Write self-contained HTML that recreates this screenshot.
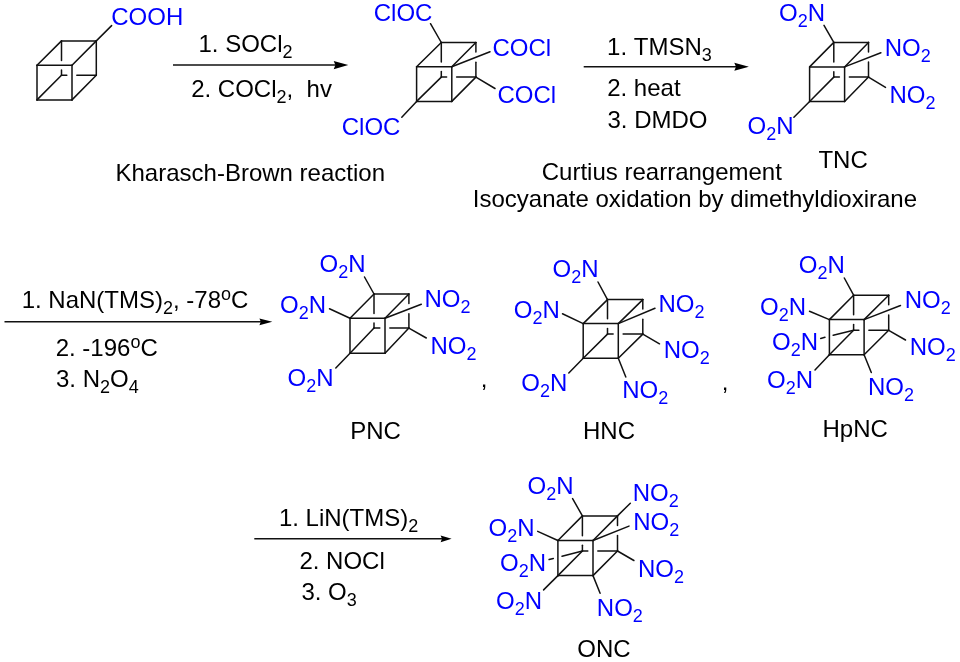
<!DOCTYPE html>
<html><head><meta charset="utf-8"><title>Cubane nitration scheme</title>
<style>
html,body{margin:0;padding:0;background:#fff;}
body{width:960px;height:662px;overflow:hidden;}
svg{display:block;font-family:"Liberation Sans",sans-serif;font-kerning:none;will-change:transform;}
</style></head><body>
<svg width="960" height="662" viewBox="0 0 960 662">
<rect width="960" height="662" fill="#fff"/>
<line x1="37.00" y1="65.30" x2="72.00" y2="65.30" stroke="#111" stroke-width="1.5" stroke-linecap="round"/>
<line x1="72.00" y1="65.30" x2="72.00" y2="99.90" stroke="#111" stroke-width="1.5" stroke-linecap="round"/>
<line x1="72.00" y1="99.90" x2="37.00" y2="99.90" stroke="#111" stroke-width="1.5" stroke-linecap="round"/>
<line x1="37.00" y1="99.90" x2="37.00" y2="65.30" stroke="#111" stroke-width="1.5" stroke-linecap="round"/>
<line x1="61.50" y1="40.90" x2="96.30" y2="40.90" stroke="#111" stroke-width="1.5" stroke-linecap="round"/>
<line x1="96.30" y1="40.90" x2="96.30" y2="75.30" stroke="#111" stroke-width="1.5" stroke-linecap="round"/>
<line x1="37.00" y1="65.30" x2="61.50" y2="40.90" stroke="#111" stroke-width="1.5" stroke-linecap="round"/>
<line x1="72.00" y1="65.30" x2="96.30" y2="40.90" stroke="#111" stroke-width="1.5" stroke-linecap="round"/>
<line x1="72.00" y1="99.90" x2="96.30" y2="75.30" stroke="#111" stroke-width="1.5" stroke-linecap="round"/>
<line x1="61.50" y1="40.90" x2="61.50" y2="60.50" stroke="#111" stroke-width="1.5" stroke-linecap="round"/>
<line x1="61.50" y1="70.10" x2="61.50" y2="75.30" stroke="#111" stroke-width="1.5" stroke-linecap="round"/>
<line x1="61.50" y1="75.30" x2="66.80" y2="75.30" stroke="#111" stroke-width="1.5" stroke-linecap="round"/>
<line x1="76.80" y1="75.30" x2="96.30" y2="75.30" stroke="#111" stroke-width="1.5" stroke-linecap="round"/>
<line x1="37.00" y1="99.90" x2="61.50" y2="75.30" stroke="#111" stroke-width="1.5" stroke-linecap="round"/>
<line x1="96.30" y1="40.90" x2="111.60" y2="25.60" stroke="#111" stroke-width="1.5" stroke-linecap="round"/>
<text x="111.28" y="0" transform="matrix(1 0 0 1.0 0 24.90)" fill="#0000ff" font-size="24" xml:space="preserve"><tspan>COOH</tspan></text>
<line x1="173.00" y1="65.10" x2="335.90" y2="65.10" stroke="#111" stroke-width="1.5" stroke-linecap="butt"/>
<path d="M348.30,65.10 L333.70,61.05 L335.40,65.10 L333.70,69.15 Z" fill="#000"/>
<text x="198.48" y="0" transform="matrix(1 0 0 1.0 0 52.00)" fill="#000000" font-size="24" xml:space="preserve"><tspan>1. SOCl</tspan><tspan dy="6.00" font-size="18">2</tspan></text>
<text x="191.19" y="0" transform="matrix(1 0 0 1.0 0 97.40)" fill="#000000" font-size="24" xml:space="preserve"><tspan>2. COCl</tspan><tspan dy="6.00" font-size="18">2</tspan><tspan dy="-6.00">,  hv</tspan></text>
<text x="115.53" y="0" transform="matrix(1 0 0 1.0 0 180.60)" fill="#000000" font-size="24" xml:space="preserve"><tspan>Kharasch-Brown reaction</tspan></text>
<line x1="416.60" y1="66.70" x2="451.80" y2="66.70" stroke="#111" stroke-width="1.5" stroke-linecap="round"/>
<line x1="451.80" y1="66.70" x2="451.80" y2="101.40" stroke="#111" stroke-width="1.5" stroke-linecap="round"/>
<line x1="451.80" y1="101.40" x2="416.60" y2="101.40" stroke="#111" stroke-width="1.5" stroke-linecap="round"/>
<line x1="416.60" y1="101.40" x2="416.60" y2="66.70" stroke="#111" stroke-width="1.5" stroke-linecap="round"/>
<line x1="441.30" y1="42.50" x2="475.90" y2="42.50" stroke="#111" stroke-width="1.5" stroke-linecap="round"/>
<line x1="475.90" y1="42.50" x2="475.90" y2="52.00" stroke="#111" stroke-width="1.5" stroke-linecap="round"/>
<line x1="475.90" y1="62.20" x2="475.90" y2="77.10" stroke="#111" stroke-width="1.5" stroke-linecap="round"/>
<line x1="416.60" y1="66.70" x2="441.30" y2="42.50" stroke="#111" stroke-width="1.5" stroke-linecap="round"/>
<line x1="451.80" y1="66.70" x2="475.90" y2="42.50" stroke="#111" stroke-width="1.5" stroke-linecap="round"/>
<line x1="451.80" y1="101.40" x2="475.90" y2="77.10" stroke="#111" stroke-width="1.5" stroke-linecap="round"/>
<line x1="441.30" y1="42.50" x2="441.30" y2="61.90" stroke="#111" stroke-width="1.5" stroke-linecap="round"/>
<line x1="441.30" y1="71.50" x2="441.30" y2="77.10" stroke="#111" stroke-width="1.5" stroke-linecap="round"/>
<line x1="441.30" y1="77.10" x2="446.60" y2="77.10" stroke="#111" stroke-width="1.5" stroke-linecap="round"/>
<line x1="456.60" y1="77.10" x2="475.90" y2="77.10" stroke="#111" stroke-width="1.5" stroke-linecap="round"/>
<line x1="416.60" y1="101.40" x2="441.30" y2="77.10" stroke="#111" stroke-width="1.5" stroke-linecap="round"/>
<line x1="441.30" y1="42.50" x2="430.50" y2="23.70" stroke="#111" stroke-width="1.5" stroke-linecap="round"/>
<line x1="451.80" y1="66.70" x2="490.00" y2="51.70" stroke="#111" stroke-width="1.5" stroke-linecap="round"/>
<line x1="475.90" y1="77.10" x2="495.00" y2="88.50" stroke="#111" stroke-width="1.5" stroke-linecap="round"/>
<line x1="416.60" y1="101.40" x2="401.80" y2="117.30" stroke="#111" stroke-width="1.5" stroke-linecap="round"/>
<text x="373.78" y="0" transform="matrix(1 0 0 1.0 0 20.60)" fill="#0000ff" font-size="24" xml:space="preserve"><tspan>ClOC</tspan></text>
<text x="492.53" y="0" transform="matrix(1 0 0 1.0 0 55.60)" fill="#0000ff" font-size="24" xml:space="preserve"><tspan>COCl</tspan></text>
<text x="497.53" y="0" transform="matrix(1 0 0 1.0 0 103.10)" fill="#0000ff" font-size="24" xml:space="preserve"><tspan>COCl</tspan></text>
<text x="341.78" y="0" transform="matrix(1 0 0 1.0 0 135.00)" fill="#0000ff" font-size="24" xml:space="preserve"><tspan>ClOC</tspan></text>
<line x1="583.70" y1="66.75" x2="736.50" y2="66.75" stroke="#111" stroke-width="1.5" stroke-linecap="butt"/>
<path d="M748.90,66.75 L734.30,62.70 L736.00,66.75 L734.30,70.80 Z" fill="#000"/>
<text x="607.08" y="0" transform="matrix(1 0 0 1.0 0 54.80)" fill="#000000" font-size="24" xml:space="preserve"><tspan>1. TMSN</tspan><tspan dy="6.00" font-size="18">3</tspan></text>
<text x="607.19" y="0" transform="matrix(1 0 0 1.0 0 96.40)" fill="#000000" font-size="24" xml:space="preserve"><tspan>2. heat</tspan></text>
<text x="607.49" y="0" transform="matrix(1 0 0 1.0 0 127.60)" fill="#000000" font-size="24" xml:space="preserve"><tspan>3. DMDO</tspan></text>
<text x="818.46" y="0" transform="matrix(1 0 0 1.0 0 168.00)" fill="#000000" font-size="24" xml:space="preserve"><tspan>TNC</tspan></text>
<text x="541.78" y="0" transform="matrix(1 0 0 1.0 0 180.20)" fill="#000000" font-size="24" xml:space="preserve"><tspan>Curtius rearrangement</tspan></text>
<text x="472.79" y="0" transform="matrix(1 0 0 1.0 0 207.30)" fill="#000000" font-size="24" xml:space="preserve"><tspan>Isocyanate oxidation by dimethyldioxirane</tspan></text>
<line x1="809.60" y1="66.90" x2="844.60" y2="66.90" stroke="#111" stroke-width="1.5" stroke-linecap="round"/>
<line x1="844.60" y1="66.90" x2="844.60" y2="101.50" stroke="#111" stroke-width="1.5" stroke-linecap="round"/>
<line x1="844.60" y1="101.50" x2="809.60" y2="101.50" stroke="#111" stroke-width="1.5" stroke-linecap="round"/>
<line x1="809.60" y1="101.50" x2="809.60" y2="66.90" stroke="#111" stroke-width="1.5" stroke-linecap="round"/>
<line x1="833.80" y1="42.40" x2="868.50" y2="42.40" stroke="#111" stroke-width="1.5" stroke-linecap="round"/>
<line x1="868.50" y1="42.40" x2="868.50" y2="51.90" stroke="#111" stroke-width="1.5" stroke-linecap="round"/>
<line x1="868.50" y1="62.10" x2="868.50" y2="77.10" stroke="#111" stroke-width="1.5" stroke-linecap="round"/>
<line x1="809.60" y1="66.90" x2="833.80" y2="42.40" stroke="#111" stroke-width="1.5" stroke-linecap="round"/>
<line x1="844.60" y1="66.90" x2="868.50" y2="42.40" stroke="#111" stroke-width="1.5" stroke-linecap="round"/>
<line x1="844.60" y1="101.50" x2="868.50" y2="77.10" stroke="#111" stroke-width="1.5" stroke-linecap="round"/>
<line x1="833.80" y1="42.40" x2="833.80" y2="62.10" stroke="#111" stroke-width="1.5" stroke-linecap="round"/>
<line x1="833.80" y1="71.70" x2="833.80" y2="77.10" stroke="#111" stroke-width="1.5" stroke-linecap="round"/>
<line x1="833.80" y1="77.10" x2="839.40" y2="77.10" stroke="#111" stroke-width="1.5" stroke-linecap="round"/>
<line x1="849.40" y1="77.10" x2="868.50" y2="77.10" stroke="#111" stroke-width="1.5" stroke-linecap="round"/>
<line x1="809.60" y1="101.50" x2="833.80" y2="77.10" stroke="#111" stroke-width="1.5" stroke-linecap="round"/>
<line x1="833.80" y1="42.40" x2="824.00" y2="25.30" stroke="#111" stroke-width="1.5" stroke-linecap="round"/>
<line x1="844.60" y1="66.90" x2="880.90" y2="52.70" stroke="#111" stroke-width="1.5" stroke-linecap="round"/>
<line x1="868.50" y1="77.10" x2="885.50" y2="87.40" stroke="#111" stroke-width="1.5" stroke-linecap="round"/>
<line x1="809.60" y1="101.50" x2="793.90" y2="117.30" stroke="#111" stroke-width="1.5" stroke-linecap="round"/>
<text x="778.96" y="0" transform="matrix(1 0 0 1.0 0 20.80)" fill="#0000ff" font-size="24" xml:space="preserve"><tspan>O</tspan><tspan dy="6.00" font-size="18">2</tspan><tspan dy="-6.00">N</tspan></text>
<text x="884.73" y="0" transform="matrix(1 0 0 1.0 0 55.60)" fill="#0000ff" font-size="24" xml:space="preserve"><tspan>NO</tspan><tspan dy="6.00" font-size="18">2</tspan></text>
<text x="889.53" y="0" transform="matrix(1 0 0 1.0 0 102.60)" fill="#0000ff" font-size="24" xml:space="preserve"><tspan>NO</tspan><tspan dy="6.00" font-size="18">2</tspan></text>
<text x="747.56" y="0" transform="matrix(1 0 0 1.0 0 134.00)" fill="#0000ff" font-size="24" xml:space="preserve"><tspan>O</tspan><tspan dy="6.00" font-size="18">2</tspan><tspan dy="-6.00">N</tspan></text>
<line x1="4.50" y1="321.80" x2="261.30" y2="321.80" stroke="#111" stroke-width="1.5" stroke-linecap="butt"/>
<path d="M272.30,321.80 L259.40,318.40 L260.80,321.80 L259.40,325.20 Z" fill="#000"/>
<text x="21.68" y="0" transform="matrix(1 0 0 1.0 0 308.10)" fill="#000000" font-size="24" xml:space="preserve"><tspan>1. NaN(TMS)</tspan><tspan dy="6.00" font-size="18">2</tspan><tspan dy="-6.00">, -78</tspan><tspan dy="-7.80" font-size="18">o</tspan><tspan dy="7.80">C</tspan></text>
<text x="55.69" y="0" transform="matrix(1 0 0 1.0 0 355.70)" fill="#000000" font-size="24" xml:space="preserve"><tspan>2. -196</tspan><tspan dy="-7.80" font-size="18">o</tspan><tspan dy="7.80">C</tspan></text>
<text x="55.99" y="0" transform="matrix(1 0 0 1.0 0 386.70)" fill="#000000" font-size="24" xml:space="preserve"><tspan>3. N</tspan><tspan dy="6.00" font-size="18">2</tspan><tspan dy="-6.00">O</tspan><tspan dy="6.00" font-size="18">4</tspan></text>
<line x1="350.00" y1="318.30" x2="385.00" y2="318.30" stroke="#111" stroke-width="1.5" stroke-linecap="round"/>
<line x1="385.00" y1="318.30" x2="385.00" y2="353.30" stroke="#111" stroke-width="1.5" stroke-linecap="round"/>
<line x1="385.00" y1="353.30" x2="350.00" y2="353.30" stroke="#111" stroke-width="1.5" stroke-linecap="round"/>
<line x1="350.00" y1="353.30" x2="350.00" y2="318.30" stroke="#111" stroke-width="1.5" stroke-linecap="round"/>
<line x1="374.00" y1="294.00" x2="408.90" y2="294.00" stroke="#111" stroke-width="1.5" stroke-linecap="round"/>
<line x1="408.90" y1="294.00" x2="408.90" y2="303.50" stroke="#111" stroke-width="1.5" stroke-linecap="round"/>
<line x1="408.90" y1="313.70" x2="408.90" y2="328.10" stroke="#111" stroke-width="1.5" stroke-linecap="round"/>
<line x1="350.00" y1="318.30" x2="374.00" y2="294.00" stroke="#111" stroke-width="1.5" stroke-linecap="round"/>
<line x1="385.00" y1="318.30" x2="408.90" y2="294.00" stroke="#111" stroke-width="1.5" stroke-linecap="round"/>
<line x1="385.00" y1="353.30" x2="408.90" y2="328.10" stroke="#111" stroke-width="1.5" stroke-linecap="round"/>
<line x1="374.00" y1="294.00" x2="374.00" y2="313.50" stroke="#111" stroke-width="1.5" stroke-linecap="round"/>
<line x1="374.00" y1="323.10" x2="374.00" y2="328.10" stroke="#111" stroke-width="1.5" stroke-linecap="round"/>
<line x1="374.00" y1="328.10" x2="379.80" y2="328.10" stroke="#111" stroke-width="1.5" stroke-linecap="round"/>
<line x1="389.80" y1="328.10" x2="408.90" y2="328.10" stroke="#111" stroke-width="1.5" stroke-linecap="round"/>
<line x1="350.00" y1="353.30" x2="374.00" y2="328.10" stroke="#111" stroke-width="1.5" stroke-linecap="round"/>
<line x1="374.00" y1="294.00" x2="364.50" y2="277.00" stroke="#111" stroke-width="1.5" stroke-linecap="round"/>
<line x1="350.00" y1="318.30" x2="329.50" y2="308.80" stroke="#111" stroke-width="1.5" stroke-linecap="round"/>
<line x1="385.00" y1="318.30" x2="421.30" y2="304.30" stroke="#111" stroke-width="1.5" stroke-linecap="round"/>
<line x1="408.90" y1="328.10" x2="426.30" y2="338.00" stroke="#111" stroke-width="1.5" stroke-linecap="round"/>
<line x1="350.00" y1="353.30" x2="335.80" y2="368.00" stroke="#111" stroke-width="1.5" stroke-linecap="round"/>
<text x="319.61" y="0" transform="matrix(1 0 0 1.0 0 272.10)" fill="#0000ff" font-size="24" xml:space="preserve"><tspan>O</tspan><tspan dy="6.00" font-size="18">2</tspan><tspan dy="-6.00">N</tspan></text>
<text x="280.11" y="0" transform="matrix(1 0 0 1.0 0 313.35)" fill="#0000ff" font-size="24" xml:space="preserve"><tspan>O</tspan><tspan dy="6.00" font-size="18">2</tspan><tspan dy="-6.00">N</tspan></text>
<text x="424.53" y="0" transform="matrix(1 0 0 1.0 0 307.10)" fill="#0000ff" font-size="24" xml:space="preserve"><tspan>NO</tspan><tspan dy="6.00" font-size="18">2</tspan></text>
<text x="430.43" y="0" transform="matrix(1 0 0 1.0 0 353.85)" fill="#0000ff" font-size="24" xml:space="preserve"><tspan>NO</tspan><tspan dy="6.00" font-size="18">2</tspan></text>
<text x="287.61" y="0" transform="matrix(1 0 0 1.0 0 386.30)" fill="#0000ff" font-size="24" xml:space="preserve"><tspan>O</tspan><tspan dy="6.00" font-size="18">2</tspan><tspan dy="-6.00">N</tspan></text>
<text x="350.13" y="0" transform="matrix(1 0 0 1.0 0 438.60)" fill="#000000" font-size="24" xml:space="preserve"><tspan>PNC</tspan></text>
<text x="480.84" y="0" transform="matrix(1 0 0 1.0 0 386.60)" fill="#000000" font-size="24" xml:space="preserve"><tspan>,</tspan></text>
<line x1="583.20" y1="323.60" x2="618.30" y2="323.60" stroke="#111" stroke-width="1.5" stroke-linecap="round"/>
<line x1="618.30" y1="323.60" x2="618.30" y2="358.30" stroke="#111" stroke-width="1.5" stroke-linecap="round"/>
<line x1="618.30" y1="358.30" x2="583.20" y2="358.30" stroke="#111" stroke-width="1.5" stroke-linecap="round"/>
<line x1="583.20" y1="358.30" x2="583.20" y2="323.60" stroke="#111" stroke-width="1.5" stroke-linecap="round"/>
<line x1="607.50" y1="299.60" x2="642.80" y2="299.60" stroke="#111" stroke-width="1.5" stroke-linecap="round"/>
<line x1="642.80" y1="299.60" x2="642.80" y2="309.10" stroke="#111" stroke-width="1.5" stroke-linecap="round"/>
<line x1="642.80" y1="319.30" x2="642.80" y2="334.10" stroke="#111" stroke-width="1.5" stroke-linecap="round"/>
<line x1="583.20" y1="323.60" x2="607.50" y2="299.60" stroke="#111" stroke-width="1.5" stroke-linecap="round"/>
<line x1="618.30" y1="323.60" x2="642.80" y2="299.60" stroke="#111" stroke-width="1.5" stroke-linecap="round"/>
<line x1="618.30" y1="358.30" x2="642.80" y2="334.10" stroke="#111" stroke-width="1.5" stroke-linecap="round"/>
<line x1="607.50" y1="299.60" x2="607.50" y2="318.80" stroke="#111" stroke-width="1.5" stroke-linecap="round"/>
<line x1="607.50" y1="328.40" x2="607.50" y2="334.10" stroke="#111" stroke-width="1.5" stroke-linecap="round"/>
<line x1="607.50" y1="334.10" x2="613.10" y2="334.10" stroke="#111" stroke-width="1.5" stroke-linecap="round"/>
<line x1="623.10" y1="334.10" x2="642.80" y2="334.10" stroke="#111" stroke-width="1.5" stroke-linecap="round"/>
<line x1="583.20" y1="358.30" x2="607.50" y2="334.10" stroke="#111" stroke-width="1.5" stroke-linecap="round"/>
<line x1="607.50" y1="299.60" x2="598.00" y2="282.00" stroke="#111" stroke-width="1.5" stroke-linecap="round"/>
<line x1="583.20" y1="323.60" x2="562.50" y2="313.80" stroke="#111" stroke-width="1.5" stroke-linecap="round"/>
<line x1="618.30" y1="323.60" x2="655.00" y2="308.30" stroke="#111" stroke-width="1.5" stroke-linecap="round"/>
<line x1="642.80" y1="334.10" x2="659.50" y2="343.80" stroke="#111" stroke-width="1.5" stroke-linecap="round"/>
<line x1="583.20" y1="358.30" x2="568.80" y2="373.00" stroke="#111" stroke-width="1.5" stroke-linecap="round"/>
<line x1="618.30" y1="358.30" x2="625.80" y2="377.00" stroke="#111" stroke-width="1.5" stroke-linecap="round"/>
<text x="552.61" y="0" transform="matrix(1 0 0 1.0 0 277.00)" fill="#0000ff" font-size="24" xml:space="preserve"><tspan>O</tspan><tspan dy="6.00" font-size="18">2</tspan><tspan dy="-6.00">N</tspan></text>
<text x="513.86" y="0" transform="matrix(1 0 0 1.0 0 318.25)" fill="#0000ff" font-size="24" xml:space="preserve"><tspan>O</tspan><tspan dy="6.00" font-size="18">2</tspan><tspan dy="-6.00">N</tspan></text>
<text x="658.53" y="0" transform="matrix(1 0 0 1.0 0 311.75)" fill="#0000ff" font-size="24" xml:space="preserve"><tspan>NO</tspan><tspan dy="6.00" font-size="18">2</tspan></text>
<text x="663.78" y="0" transform="matrix(1 0 0 1.0 0 358.00)" fill="#0000ff" font-size="24" xml:space="preserve"><tspan>NO</tspan><tspan dy="6.00" font-size="18">2</tspan></text>
<text x="521.36" y="0" transform="matrix(1 0 0 1.0 0 391.25)" fill="#0000ff" font-size="24" xml:space="preserve"><tspan>O</tspan><tspan dy="6.00" font-size="18">2</tspan><tspan dy="-6.00">N</tspan></text>
<text x="622.28" y="0" transform="matrix(1 0 0 1.0 0 398.00)" fill="#0000ff" font-size="24" xml:space="preserve"><tspan>NO</tspan><tspan dy="6.00" font-size="18">2</tspan></text>
<text x="583.03" y="0" transform="matrix(1 0 0 1.0 0 438.60)" fill="#000000" font-size="24" xml:space="preserve"><tspan>HNC</tspan></text>
<text x="721.84" y="0" transform="matrix(1 0 0 1.0 0 389.50)" fill="#000000" font-size="24" xml:space="preserve"><tspan>,</tspan></text>
<line x1="829.40" y1="319.60" x2="864.10" y2="319.60" stroke="#111" stroke-width="1.5" stroke-linecap="round"/>
<line x1="864.10" y1="319.60" x2="864.10" y2="354.70" stroke="#111" stroke-width="1.5" stroke-linecap="round"/>
<line x1="864.10" y1="354.70" x2="829.40" y2="354.70" stroke="#111" stroke-width="1.5" stroke-linecap="round"/>
<line x1="829.40" y1="354.70" x2="829.40" y2="319.60" stroke="#111" stroke-width="1.5" stroke-linecap="round"/>
<line x1="853.60" y1="295.20" x2="888.70" y2="295.20" stroke="#111" stroke-width="1.5" stroke-linecap="round"/>
<line x1="888.70" y1="295.20" x2="888.70" y2="304.70" stroke="#111" stroke-width="1.5" stroke-linecap="round"/>
<line x1="888.70" y1="314.90" x2="888.70" y2="330.30" stroke="#111" stroke-width="1.5" stroke-linecap="round"/>
<line x1="829.40" y1="319.60" x2="853.60" y2="295.20" stroke="#111" stroke-width="1.5" stroke-linecap="round"/>
<line x1="864.10" y1="319.60" x2="888.70" y2="295.20" stroke="#111" stroke-width="1.5" stroke-linecap="round"/>
<line x1="864.10" y1="354.70" x2="888.70" y2="330.30" stroke="#111" stroke-width="1.5" stroke-linecap="round"/>
<line x1="853.60" y1="295.20" x2="853.60" y2="314.80" stroke="#111" stroke-width="1.5" stroke-linecap="round"/>
<line x1="853.60" y1="324.40" x2="853.60" y2="330.30" stroke="#111" stroke-width="1.5" stroke-linecap="round"/>
<line x1="853.60" y1="330.30" x2="858.90" y2="330.30" stroke="#111" stroke-width="1.5" stroke-linecap="round"/>
<line x1="868.90" y1="330.30" x2="888.70" y2="330.30" stroke="#111" stroke-width="1.5" stroke-linecap="round"/>
<line x1="829.40" y1="354.70" x2="853.60" y2="330.30" stroke="#111" stroke-width="1.5" stroke-linecap="round"/>
<line x1="853.60" y1="295.20" x2="844.30" y2="278.00" stroke="#111" stroke-width="1.5" stroke-linecap="round"/>
<line x1="829.40" y1="319.60" x2="809.50" y2="311.30" stroke="#111" stroke-width="1.5" stroke-linecap="round"/>
<line x1="864.10" y1="319.60" x2="900.50" y2="305.50" stroke="#111" stroke-width="1.5" stroke-linecap="round"/>
<line x1="888.70" y1="330.30" x2="905.50" y2="340.00" stroke="#111" stroke-width="1.5" stroke-linecap="round"/>
<line x1="829.40" y1="354.70" x2="815.00" y2="370.00" stroke="#111" stroke-width="1.5" stroke-linecap="round"/>
<line x1="864.10" y1="354.70" x2="871.30" y2="372.50" stroke="#111" stroke-width="1.5" stroke-linecap="round"/>
<line x1="853.60" y1="330.30" x2="833.21" y2="335.32" stroke="#111" stroke-width="1.5" stroke-linecap="round"/>
<line x1="824.96" y1="337.35" x2="820.70" y2="338.40" stroke="#111" stroke-width="1.5" stroke-linecap="round"/>
<text x="798.86" y="0" transform="matrix(1 0 0 1.0 0 273.25)" fill="#0000ff" font-size="24" xml:space="preserve"><tspan>O</tspan><tspan dy="6.00" font-size="18">2</tspan><tspan dy="-6.00">N</tspan></text>
<text x="760.11" y="0" transform="matrix(1 0 0 1.0 0 314.50)" fill="#0000ff" font-size="24" xml:space="preserve"><tspan>O</tspan><tspan dy="6.00" font-size="18">2</tspan><tspan dy="-6.00">N</tspan></text>
<text x="772.11" y="0" transform="matrix(1 0 0 1.0 0 350.00)" fill="#0000ff" font-size="24" xml:space="preserve"><tspan>O</tspan><tspan dy="6.00" font-size="18">2</tspan><tspan dy="-6.00">N</tspan></text>
<text x="904.63" y="0" transform="matrix(1 0 0 1.0 0 308.00)" fill="#0000ff" font-size="24" xml:space="preserve"><tspan>NO</tspan><tspan dy="6.00" font-size="18">2</tspan></text>
<text x="909.78" y="0" transform="matrix(1 0 0 1.0 0 355.00)" fill="#0000ff" font-size="24" xml:space="preserve"><tspan>NO</tspan><tspan dy="6.00" font-size="18">2</tspan></text>
<text x="767.11" y="0" transform="matrix(1 0 0 1.0 0 387.50)" fill="#0000ff" font-size="24" xml:space="preserve"><tspan>O</tspan><tspan dy="6.00" font-size="18">2</tspan><tspan dy="-6.00">N</tspan></text>
<text x="868.03" y="0" transform="matrix(1 0 0 1.0 0 394.80)" fill="#0000ff" font-size="24" xml:space="preserve"><tspan>NO</tspan><tspan dy="6.00" font-size="18">2</tspan></text>
<text x="822.53" y="0" transform="matrix(1 0 0 1.0 0 436.60)" fill="#000000" font-size="24" xml:space="preserve"><tspan>HpNC</tspan></text>
<line x1="254.30" y1="538.80" x2="442.50" y2="538.80" stroke="#111" stroke-width="1.5" stroke-linecap="butt"/>
<path d="M451.60,538.80 L440.60,535.40 L442.00,538.80 L440.60,542.20 Z" fill="#000"/>
<text x="278.88" y="0" transform="matrix(1 0 0 1.0 0 525.70)" fill="#000000" font-size="24" xml:space="preserve"><tspan>1. LiN(TMS)</tspan><tspan dy="6.00" font-size="18">2</tspan></text>
<text x="299.39" y="0" transform="matrix(1 0 0 1.0 0 568.90)" fill="#000000" font-size="24" xml:space="preserve"><tspan>2. NOCl</tspan></text>
<text x="301.39" y="0" transform="matrix(1 0 0 1.0 0 599.60)" fill="#000000" font-size="24" xml:space="preserve"><tspan>3. O</tspan><tspan dy="6.00" font-size="18">3</tspan></text>
<line x1="557.90" y1="540.50" x2="593.00" y2="540.50" stroke="#111" stroke-width="1.5" stroke-linecap="round"/>
<line x1="593.00" y1="540.50" x2="593.00" y2="575.60" stroke="#111" stroke-width="1.5" stroke-linecap="round"/>
<line x1="593.00" y1="575.60" x2="557.90" y2="575.60" stroke="#111" stroke-width="1.5" stroke-linecap="round"/>
<line x1="557.90" y1="575.60" x2="557.90" y2="540.50" stroke="#111" stroke-width="1.5" stroke-linecap="round"/>
<line x1="582.40" y1="515.90" x2="617.50" y2="515.90" stroke="#111" stroke-width="1.5" stroke-linecap="round"/>
<line x1="617.50" y1="515.90" x2="617.50" y2="525.40" stroke="#111" stroke-width="1.5" stroke-linecap="round"/>
<line x1="617.50" y1="535.60" x2="617.50" y2="551.00" stroke="#111" stroke-width="1.5" stroke-linecap="round"/>
<line x1="557.90" y1="540.50" x2="582.40" y2="515.90" stroke="#111" stroke-width="1.5" stroke-linecap="round"/>
<line x1="593.00" y1="540.50" x2="617.50" y2="515.90" stroke="#111" stroke-width="1.5" stroke-linecap="round"/>
<line x1="593.00" y1="575.60" x2="617.50" y2="551.00" stroke="#111" stroke-width="1.5" stroke-linecap="round"/>
<line x1="582.40" y1="515.90" x2="582.40" y2="535.70" stroke="#111" stroke-width="1.5" stroke-linecap="round"/>
<line x1="582.40" y1="545.30" x2="582.40" y2="551.00" stroke="#111" stroke-width="1.5" stroke-linecap="round"/>
<line x1="582.40" y1="551.00" x2="587.80" y2="551.00" stroke="#111" stroke-width="1.5" stroke-linecap="round"/>
<line x1="597.80" y1="551.00" x2="617.50" y2="551.00" stroke="#111" stroke-width="1.5" stroke-linecap="round"/>
<line x1="557.90" y1="575.60" x2="582.40" y2="551.00" stroke="#111" stroke-width="1.5" stroke-linecap="round"/>
<line x1="582.40" y1="515.90" x2="572.60" y2="498.60" stroke="#111" stroke-width="1.5" stroke-linecap="round"/>
<line x1="617.50" y1="515.90" x2="630.30" y2="503.20" stroke="#111" stroke-width="1.5" stroke-linecap="round"/>
<line x1="593.00" y1="540.50" x2="629.00" y2="526.10" stroke="#111" stroke-width="1.5" stroke-linecap="round"/>
<line x1="617.50" y1="551.00" x2="633.90" y2="560.50" stroke="#111" stroke-width="1.5" stroke-linecap="round"/>
<line x1="593.00" y1="575.60" x2="600.10" y2="593.30" stroke="#111" stroke-width="1.5" stroke-linecap="round"/>
<line x1="557.90" y1="575.60" x2="543.60" y2="589.90" stroke="#111" stroke-width="1.5" stroke-linecap="round"/>
<line x1="582.40" y1="551.00" x2="562.05" y2="556.19" stroke="#111" stroke-width="1.5" stroke-linecap="round"/>
<line x1="553.33" y1="558.42" x2="549.10" y2="559.50" stroke="#111" stroke-width="1.5" stroke-linecap="round"/>
<line x1="557.90" y1="540.50" x2="537.70" y2="531.40" stroke="#111" stroke-width="1.5" stroke-linecap="round"/>
<text x="527.56" y="0" transform="matrix(1 0 0 1.0 0 494.00)" fill="#0000ff" font-size="24" xml:space="preserve"><tspan>O</tspan><tspan dy="6.00" font-size="18">2</tspan><tspan dy="-6.00">N</tspan></text>
<text x="632.63" y="0" transform="matrix(1 0 0 1.0 0 500.80)" fill="#0000ff" font-size="24" xml:space="preserve"><tspan>NO</tspan><tspan dy="6.00" font-size="18">2</tspan></text>
<text x="633.13" y="0" transform="matrix(1 0 0 1.0 0 529.80)" fill="#0000ff" font-size="24" xml:space="preserve"><tspan>NO</tspan><tspan dy="6.00" font-size="18">2</tspan></text>
<text x="638.03" y="0" transform="matrix(1 0 0 1.0 0 576.60)" fill="#0000ff" font-size="24" xml:space="preserve"><tspan>NO</tspan><tspan dy="6.00" font-size="18">2</tspan></text>
<text x="596.83" y="0" transform="matrix(1 0 0 1.0 0 616.00)" fill="#0000ff" font-size="24" xml:space="preserve"><tspan>NO</tspan><tspan dy="6.00" font-size="18">2</tspan></text>
<text x="496.06" y="0" transform="matrix(1 0 0 1.0 0 609.00)" fill="#0000ff" font-size="24" xml:space="preserve"><tspan>O</tspan><tspan dy="6.00" font-size="18">2</tspan><tspan dy="-6.00">N</tspan></text>
<text x="500.06" y="0" transform="matrix(1 0 0 1.0 0 570.90)" fill="#0000ff" font-size="24" xml:space="preserve"><tspan>O</tspan><tspan dy="6.00" font-size="18">2</tspan><tspan dy="-6.00">N</tspan></text>
<text x="488.46" y="0" transform="matrix(1 0 0 1.0 0 536.30)" fill="#0000ff" font-size="24" xml:space="preserve"><tspan>O</tspan><tspan dy="6.00" font-size="18">2</tspan><tspan dy="-6.00">N</tspan></text>
<text x="577.26" y="0" transform="matrix(1 0 0 1.0 0 656.50)" fill="#000000" font-size="24" xml:space="preserve"><tspan>ONC</tspan></text>
</svg>
</body></html>
